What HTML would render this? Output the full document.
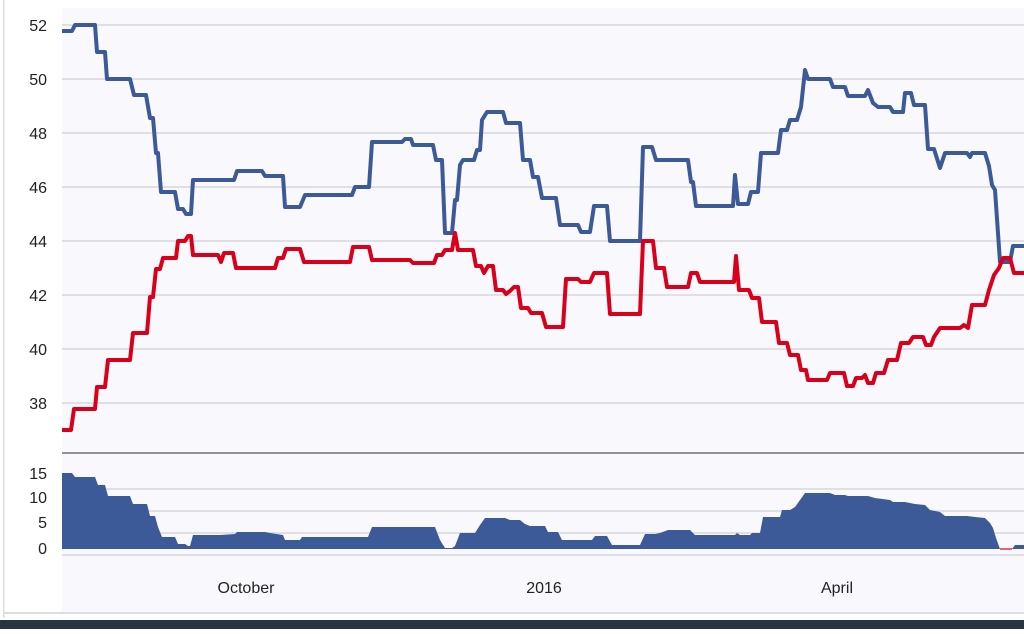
<!DOCTYPE html>
<html><head><style>
body{margin:0;background:#fff;width:1024px;height:629px;overflow:hidden;font-family:"Liberation Sans","DejaVu Sans",sans-serif}
</style></head><body>
<svg width="1024" height="629" viewBox="0 0 1024 629" xmlns="http://www.w3.org/2000/svg">
<rect x="0" y="0" width="1024" height="629" fill="#fff"/>
<rect x="3" y="0" width="1.5" height="618" fill="#ddd"/>
<rect x="62" y="8" width="962" height="606" fill="#f9f9fd"/>
<rect x="3" y="612" width="1021" height="2" fill="#ddd"/>
<rect x="0" y="620" width="1024" height="9" fill="#2b3441"/>
<g stroke="#d8d8dc" stroke-width="1.5">
<line x1="62" x2="1024" y1="25" y2="25"/><line x1="62" x2="1024" y1="79" y2="79"/>
<line x1="62" x2="1024" y1="133" y2="133"/><line x1="62" x2="1024" y1="187" y2="187"/>
<line x1="62" x2="1024" y1="241" y2="241"/><line x1="62" x2="1024" y1="295" y2="295"/>
<line x1="62" x2="1024" y1="349" y2="349"/><line x1="62" x2="1024" y1="403" y2="403"/>
<line x1="62" x2="1024" y1="489" y2="489"/><line x1="62" x2="1024" y1="511" y2="511"/>
<line x1="62" x2="1024" y1="533" y2="533"/><line x1="62" x2="1024" y1="555" y2="555"/>
</g>
<line x1="62" x2="1024" y1="453" y2="453" stroke="#555" stroke-width="1.2"/>
<g font-size="16" fill="#222" text-anchor="end">
<text x="47" y="31">52</text><text x="47" y="85">50</text><text x="47" y="139">48</text>
<text x="47" y="193">46</text><text x="47" y="247">44</text><text x="47" y="301">42</text>
<text x="47" y="355">40</text><text x="47" y="409">38</text>
<text x="47" y="479">15</text><text x="47" y="503">10</text><text x="47" y="528">5</text><text x="47" y="554">0</text>
</g>
<g font-size="16" fill="#222" text-anchor="middle">
<text x="246" y="593">October</text><text x="544" y="593">2016</text><text x="837" y="593">April</text>
</g>
<polygon fill="#3c5a98" points="62,549 62,473 72,473 75,477 95,477 98,485 105,485 108,496 130,496 133,504 147,504 150,516 155,516 158,527 162,537 175,537 178,544 185,544 188,546 190,546 193,535 220,535 235,534 237,532 265,532 270,533 283,535 285,540 300,540 302,537 368,537 372,527 435,527 440,540 445,548 452,548 455,546 460,533 475,533 480,525 485,518 505,518 510,520 520,520 525,524 530,526 545,526 548,532 558,532 562,540 592,540 595,536 607,536 612,545 640,545 645,534 655,534 660,533 668,530 690,530 695,535 735,535 737,533 740,535 750,535 752,533 760,533 763,517 780,517 782,510 790,510 795,507 805,493 830,493 835,495 845,495 848,496 868,496 875,498 890,500 893,502 905,502 915,504 925,505 930,510 940,512 945,516 967,516 975,517 985,518 990,523 993,528 996,538 1000,549"/>
<line x1="1000" x2="1012" y1="549" y2="549" stroke="#d9001b" stroke-width="1.2"/>
<polygon fill="#3c5a98" points="1012,549 1015,545 1024,545 1024,549"/>
<polyline fill="none" stroke="#3c5a98" stroke-width="4" stroke-linejoin="round" points="62,31 72,31 75,25 95,25 97,52 105,52 107,79 130,79 134,95 146,95 150,118 153,118 156,153 158,153 161,192 175,192 178,209 183,209 186,214 191,214 193,180 234,180 237,171 262,171 265,176 283,176 285,207 300,207 305,195 352,195 355,187 369,187 372,142 402,142 405,139 411,139 413,145 433,145 436,160 442,160 445,233 452,233 455,200 457,200 460,165 463,160 474,160 477,150 480,150 482,120 487,112 503,112 506,123 520,123 523,160 530,160 533,177 538,177 542,198 556,198 560,225 578,225 581,232 590,232 594,206 607,206 610,241 640,241 643,147 652,147 656,160 688,160 691,182 693,182 696,206 733,206 735,175 738,204 748,204 751,192 758,192 761,153 778,153 781,130 787,130 790,120 797,120 801,107 805,70 808,79 830,79 833,87 845,87 848,96 865,96 868,90 873,103 878,107 890,107 893,112 903,112 905,93 911,93 914,105 925,105 928,149 934,149 940,168 945,153 967,153 970,157 972,153 985,153 989,166 992,185 995,190 1000,262 1010,262 1013,246 1024,246"/>
<polyline fill="none" stroke="#d9001b" stroke-width="4" stroke-linejoin="round" points="62,430 71,430 74,409 95,409 97,387 105,387 108,360 130,360 133,333 147,333 150,297 153,297 156,269 160,269 163,258 176,258 178,241 185,241 188,236 191,236 193,255 218,255 221,262 224,253 233,253 236,268 275,268 278,258 283,258 286,249 300,249 304,262 350,262 353,247 369,247 372,260 410,260 413,263 434,263 437,255 442,255 445,250 452,250 455,233 458,250 473,250 476,266 481,266 484,273 488,266 493,266 496,290 503,290 506,294 510,291 514,287 518,287 521,308 528,308 531,313 542,313 546,327 563,327 566,279 578,279 581,282 590,282 594,273 607,273 610,314 640,314 643,241 653,241 656,268 664,268 667,287 688,287 691,273 697,273 700,282 734,282 736,256 739,290 749,290 752,298 759,298 762,322 776,322 779,343 787,343 790,355 798,355 801,370 806,370 808,380 827,380 830,373 844,373 847,386 853,386 856,378 862,378 865,375 868,383 873,383 876,373 884,373 888,360 897,360 901,343 909,343 913,337 923,337 926,345 931,345 934,337 940,328 960,328 964,325 968,328 972,305 985,305 989,290 994,275 999,268 1003,258 1010,258 1014,273 1024,273"/>
</svg>
</body></html>
